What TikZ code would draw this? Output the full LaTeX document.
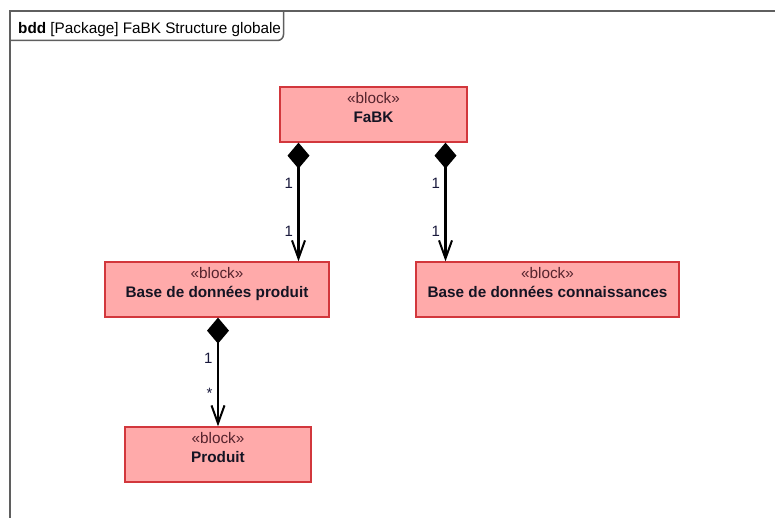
\documentclass[tikz,border=0pt]{standalone}
\usepackage{fontspec}
\setmainfont{Liberation Sans}
\usetikzlibrary{arrows.meta}
\definecolor{blockfill}{RGB}{255,170,170}
\definecolor{blockdraw}{RGB}{210,55,60}
\definecolor{framec}{RGB}{95,95,95}
\definecolor{stereoc}{RGB}{85,35,45}
\definecolor{namec}{RGB}{20,20,35}
\definecolor{multc}{RGB}{25,25,60}
\newcommand{\blocktext}[2]{%
  \begin{minipage}[t][55pt][t]{#1}\centering
  \fontsize{15.3}{19}\selectfont
  \vspace*{5.5pt}{\color{stereoc}«block»}\\
  {\color{namec}\bfseries #2}\end{minipage}}
\begin{document}
\begin{tikzpicture}[x=1pt,y=-1pt,
  blk/.style={draw=blockdraw, fill=blockfill, line width=1.3pt, inner sep=0pt,
    minimum height=55pt},
  comp/.style={line width=2.3pt,
    {Diamond[length=26pt,width=22pt]}-{Straight Barb[length=18pt,width=13pt,line width=2pt]}},
  mult/.style={font=\fontsize{15}{17}\selectfont, text=multc, inner sep=0pt},
  framel/.style={draw=framec, line width=1.5pt}]
\useasboundingbox (0,0) rectangle (775,518);
% frame
\draw[framel] (10,525) -- (10,11) -- (780,11);
\draw[framel, rounded corners=6pt] (10,40.5) -- (283.5,40.5) -- (283.5,11);
\node[anchor=base west, inner sep=0pt, font=\fontsize{15.3}{17}\selectfont] (title) at (18,33.5)
  {\textbf{bdd} [Package] FaBK Structure globale};
% blocks
\node[blk, minimum width=187pt] (fabk) at (373.5,114.5) {\blocktext{180pt}{FaBK}};
\node[blk, minimum width=224pt] (bdp) at (217,289.5) {\blocktext{215pt}{Base de données produit}};
\node[blk, minimum width=263pt] (bdc) at (547.5,289.5) {\blocktext{255pt}{Base de données connaissances}};
\node[blk, minimum width=186pt] (prod) at (218,454.5) {\blocktext{180pt}{Produit}};
% connectors
\coordinate (c1) at (298.5,0);
\coordinate (c2) at (445.5,0);
\coordinate (c3) at (218,0);
\draw[comp] (fabk.south -| c1) -- node[mult, pos=.34, left=4.5pt] {1}
  node[mult, pos=.75, left=4.5pt] {1} (bdp.north -| c1);
\draw[comp] (fabk.south -| c2) -- node[mult, pos=.34, left=4.5pt] {1}
  node[mult, pos=.75, left=4.5pt] {1} (bdc.north -| c2);
\draw[comp] (bdp.south -| c3) -- node[mult, pos=.37, left=4.5pt] {1}
  node[mult, pos=.70, left=4.5pt] {*} (prod.north -| c3);
\end{tikzpicture}
\end{document}
